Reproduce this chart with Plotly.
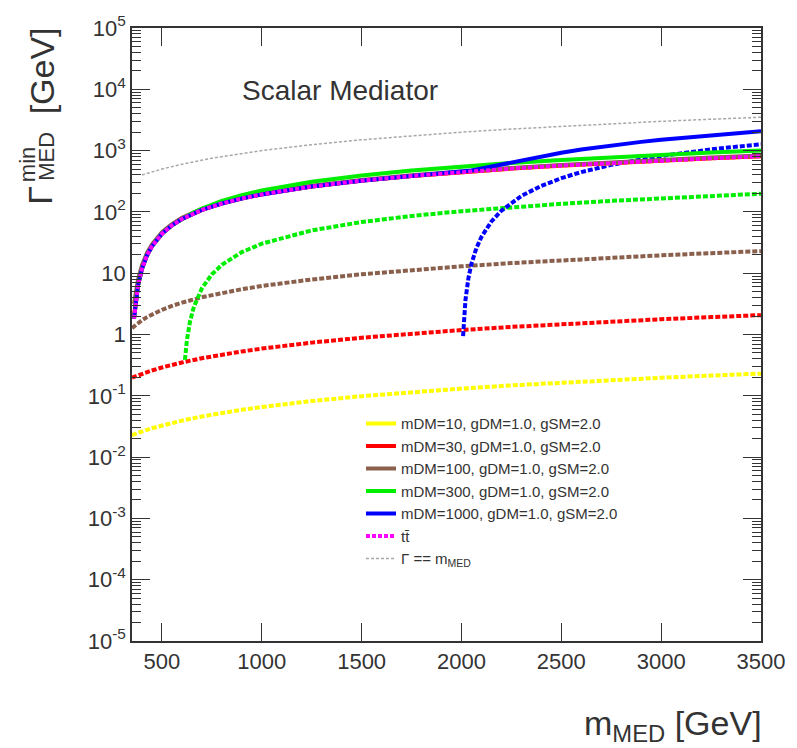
import plotly.graph_objects as go

# ---------------------------------------------------------------
# Minimal scalar-mediator width vs mediator mass
# ---------------------------------------------------------------

# mediator mass grids [GeV]
m_low = [350, 360, 370, 380, 400, 425, 450, 500, 550, 600, 700, 800, 900, 1000,
         1250, 1500, 1750, 2000, 2250, 2500, 2750, 3000, 3250, 3500]
m_tt = [360, 370, 380, 400, 425, 450, 500, 550, 600, 700, 800, 900, 1000,
        1250, 1500, 1750, 2000, 2250, 2500, 2750, 3000, 3250, 3500]
m_green = [615, 625, 640, 660, 700, 750, 800, 900, 1000, 1250, 1500, 1750,
           2000, 2250, 2500, 2750, 3000, 3250, 3500]
m_green_tot = [360, 370, 380, 400, 425, 450, 500, 550, 600, 615, 625, 640, 660,
               700, 750, 800, 900, 1000, 1250, 1500, 1750, 2000, 2250, 2500,
               2750, 3000, 3250, 3500]
m_blue = [2008, 2010, 2020, 2035, 2050, 2075, 2100, 2150, 2200, 2300, 2400,
          2500, 2600, 2750, 2900, 3000, 3250, 3500]
m_blue_tot = [360, 370, 380, 400, 425, 450, 500, 550, 600, 700, 800, 900, 1000,
              1250, 1500, 1750, 2000, 2008, 2010, 2020, 2035, 2050, 2075, 2100,
              2150, 2200, 2300, 2400, 2500, 2600, 2750, 2900, 3000, 3250, 3500]
m_diag = [400, 500, 600, 750, 1000, 1250, 1500, 1750, 2000, 2250, 2500, 2750,
          3000, 3250, 3500]

# partial width into DM pairs [GeV]
w_dm10 = [0.0229, 0.0236, 0.0243, 0.0250, 0.0263, 0.0279, 0.0296, 0.0329, 0.0362,
          0.0394, 0.0460, 0.0526, 0.0592, 0.0657, 0.0822, 0.0986, 0.115, 0.131,
          0.148, 0.164, 0.181, 0.197, 0.214, 0.230]
w_dm30 = [0.198, 0.204, 0.210, 0.217, 0.229, 0.244, 0.259, 0.290, 0.320, 0.350,
          0.410, 0.469, 0.529, 0.589, 0.737, 0.886, 1.034, 1.182, 1.330, 1.478,
          1.626, 1.774, 1.922, 2.070]
w_dm100 = [1.272, 1.361, 1.449, 1.536, 1.708, 1.920, 2.127, 2.531, 2.923, 3.306,
           4.051, 4.775, 5.485, 6.184, 7.905, 9.601, 11.28, 12.95, 14.62, 16.28,
           17.94, 19.59, 21.25, 22.90]
w_dm300 = [0.385, 0.812, 1.596, 2.824, 5.662, 9.586, 13.70, 22.05, 30.30, 49.94,
           68.34, 85.85, 102.7, 119.2, 135.4, 151.3, 167.0, 182.6, 198.1]
w_dm1000 = [0.94, 1.31, 3.67, 8.43, 14.26, 25.80, 39.14, 69.86, 104.6, 182.1,
            266.5, 355.1, 446.0, 584.6, 724.0, 816.8, 1046.5, 1271.9]

# partial width into top pairs [GeV]
w_tt = [1.8, 3.9, 6.3, 11.8, 19.5, 27.5, 44.0, 60.4, 76.6, 107.6, 137.2, 165.7,
        193.0, 259.5, 323.4, 385.7, 447.2, 508.0, 568.3, 628.3, 688.0, 747.6,
        807.0]

# total widths [GeV]
tot_dm10 = [1.82, 3.92, 6.33, 11.83, 19.53, 27.53, 44.03, 60.44, 76.64, 107.65,
            137.25, 165.76, 193.07, 259.6, 323.5, 385.8, 447.3, 508.1, 568.5,
            628.5, 688.2, 747.8, 807.2]
tot_dm30 = [2.00, 4.11, 6.52, 12.03, 19.74, 27.76, 44.29, 60.72, 76.95, 108.0,
            137.7, 166.2, 193.6, 260.2, 324.3, 386.7, 448.4, 509.3, 569.8,
            629.9, 689.8, 749.5, 809.1]
tot_dm100 = [3.16, 5.35, 7.84, 13.51, 21.42, 29.63, 46.53, 63.32, 79.91, 111.7,
             142.0, 171.2, 199.2, 267.4, 333.0, 397.0, 460.2, 522.6, 584.6,
             646.2, 707.6, 768.9, 829.9]
tot_dm300 = [1.8, 3.9, 6.3, 11.8, 19.5, 27.5, 44.0, 60.4, 76.6, 81.7, 85.3, 90.8,
             98.2, 113.3, 132.2, 150.9, 187.8, 223.3, 309.4, 391.7, 471.6, 549.9,
             627.2, 703.7, 779.6, 855.0, 930.2, 1005.1]
tot_dm1000 = [1.8, 3.9, 6.3, 11.8, 19.5, 27.5, 44.0, 60.4, 76.6, 107.6, 137.2,
              165.7, 193.0, 259.5, 323.4, 385.7, 447.2, 450.1, 451.0, 455.8, 464.2,
              473.7, 491.3, 510.7, 553.6, 600.5, 702.3, 810.8, 923.4, 1038.3,
              1212.9, 1388.2, 1504.8, 1794.1, 2078.9]

# width equal to the mediator mass [GeV]
w_diag = [400, 500, 600, 750, 1000, 1250, 1500, 1750, 2000, 2250, 2500, 2750,
          3000, 3250, 3500]

labels = ["mDM=10, gDM=1.0, gSM=2.0", "mDM=30, gDM=1.0, gSM=2.0",
          "mDM=100, gDM=1.0, gSM=2.0", "mDM=300, gDM=1.0, gSM=2.0",
          "mDM=1000, gDM=1.0, gSM=2.0"]
colors = ["#ffff00", "#ff0000", "#8a5f4c", "#00ee00", "#0000ff"]

x_ticks = [500, 1000, 1500, 2000, 2500, 3000, 3500]
x_ticktext = ["500", "1000", "1500", "2000", "2500", "3000", "3500"]
y_ticks = [1e-5, 1e-4, 1e-3, 1e-2, 1e-1, 1, 10, 1e2, 1e3, 1e4, 1e5]
y_ticktext = ["10<sup>-5</sup>", "10<sup>-4</sup>", "10<sup>-3</sup>",
              "10<sup>-2</sup>", "10<sup>-1</sup>", "1", "10",
              "10<sup>2</sup>", "10<sup>3</sup>", "10<sup>4</sup>",
              "10<sup>5</sup>"]

FONT = "Liberation Sans, Arial, sans-serif"
TXT = "#333333"

partial_x = [m_low, m_low, m_low, m_green, m_blue]
partial_y = [w_dm10, w_dm30, w_dm100, w_dm300, w_dm1000]
total_x = [m_tt, m_tt, m_tt, m_green_tot, m_blue_tot]
total_y = [tot_dm10, tot_dm30, tot_dm100, tot_dm300, tot_dm1000]

fig = go.Figure()

# DM-pair partial widths (no legend entry)
for xs, ys, c in zip(partial_x, partial_y, colors):
    fig.add_trace(go.Scatter(
        x=xs, y=ys, mode="lines", showlegend=False, hoverinfo="skip",
        line=dict(color=c, width=4, dash="5px,2px")))

# total widths (carry the legend)
for i, (xs, ys, c, lab) in enumerate(zip(total_x, total_y, colors, labels)):
    fig.add_trace(go.Scatter(
        x=xs, y=ys, mode="lines", name=lab, legendgroup=f"g{i}",
        line=dict(color=c, width=4)))

fig.add_trace(go.Scatter(
    x=m_tt, y=w_tt, mode="lines", name="tt\u0304", legendgroup="g5",
    line=dict(color="#ff00ff", width=4, dash="4px,2px")))

fig.add_trace(go.Scatter(
    x=m_diag, y=w_diag, mode="lines", name="\u0393 == m<sub>MED</sub>",
    legendgroup="g6",
    line=dict(color="#a8a8a8", width=1.5, dash="3px,2px")))

# plot-area pixel geometry
L, R, T, B = 132, 772, 25, 641
W, H = 797, 748


def px(p):
    return (p - L) / (R - L)


def py(p):
    return (B - p) / (B - T)


minor_vals = [k * 10.0 ** e for e in range(-5, 5) for k in range(2, 10)]

axis_common = dict(
    showline=True, linecolor="#333333", linewidth=1.5, mirror="allticks",
    ticks="inside", tickcolor="#333333", tickwidth=1.2, ticklen=18,
    showgrid=False, zeroline=False,
    tickfont=dict(family=FONT, size=22, color=TXT),
)

fig.update_xaxes(
    range=[350, 3500], tickmode="array", tickvals=x_ticks,
    ticktext=x_ticktext, **axis_common)
fig.update_yaxes(
    type="log", range=[-5, 5], tickmode="array", tickvals=y_ticks,
    ticktext=y_ticktext,
    minor=dict(tickmode="array", tickvals=minor_vals, ticks="inside",
               ticklen=9, tickcolor="#333333", tickwidth=1.2, showgrid=False),
    **axis_common)

annotations = [
    dict(text="Scalar Mediator", x=px(344), y=py(88), xanchor="center",
         yanchor="middle", font=dict(family=FONT, size=28, color=TXT)),
    dict(text="m<sub>MED</sub> [GeV]", x=px(775), y=py(726), xanchor="right",
         yanchor="middle", font=dict(family=FONT, size=34, color=TXT)),
    dict(text="\u0393", x=px(39), y=py(193), xanchor="center", yanchor="middle",
         textangle=-90, font=dict(family=FONT, size=34, color=TXT)),
    dict(text="min", x=px(25), y=py(162), xanchor="center", yanchor="middle",
         textangle=-90, font=dict(family=FONT, size=22, color=TXT)),
    dict(text="MED", x=px(45), y=py(154), xanchor="center", yanchor="middle",
         textangle=-90, font=dict(family=FONT, size=22, color=TXT)),
    dict(text="[GeV]", x=px(40), y=py(68), xanchor="center", yanchor="middle",
         textangle=-90, font=dict(family=FONT, size=34, color=TXT)),
]
for a in annotations:
    a.update(xref="paper", yref="paper", showarrow=False)

fig.update_layout(
    width=W, height=H,
    margin=dict(l=L, r=W - R, t=T, b=H - B),
    paper_bgcolor="white", plot_bgcolor="white",
    annotations=annotations,
    legend=dict(x=px(365), y=py(406), xanchor="left", yanchor="top",
                bgcolor="rgba(0,0,0,0)", borderwidth=0, itemwidth=30,
                tracegroupgap=0, traceorder="normal",
                font=dict(family=FONT, size=15, color=TXT)),
)

fig.write_html("out.html")
